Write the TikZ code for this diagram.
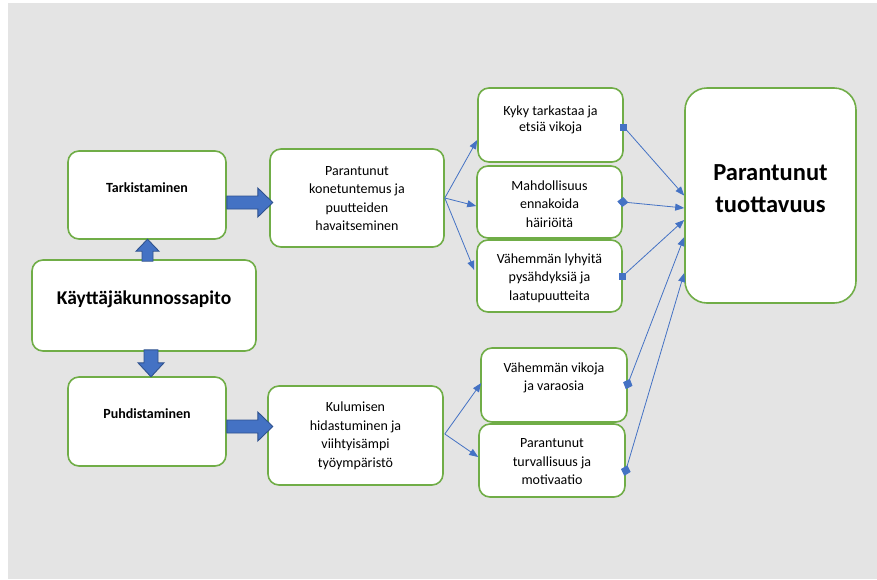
\documentclass[tikz,border=0pt]{standalone}
\usepackage{fontspec}
\setmainfont{Carlito}
\usetikzlibrary{arrows.meta,calc}
\definecolor{bggray}{HTML}{E4E4E4}
\definecolor{boxgreen}{HTML}{70AD47}
\definecolor{arrowblue}{HTML}{4472C4}
\definecolor{arrowedge}{HTML}{2F528F}

% block arrow: start coordinate, angle, length, head length, half shaft, half head
\newcommand\bigarr[6]{%
  \draw[barrow,shift={(#1)},rotate=#2]
    (0,-#5) -- ({#3-#4},-#5) -- ({#3-#4},-#6) -- (#3,0)
    -- ({#3-#4},#6) -- ({#3-#4},#5) -- (0,#5) -- cycle;}

\begin{document}
\begin{tikzpicture}[x=1pt,y=-1pt,
  box/.style={draw=boxgreen, line width=1.6pt, fill=white, rounded corners=11pt, inner sep=0pt},
  bigbox/.style={box, rounded corners=22pt},
  txt/.style={align=center, inner sep=0pt, font=\fontsize{14}{18.5}\selectfont},
  btxt/.style={align=center, inner sep=0pt, font=\fontsize{14}{16}\selectfont\bfseries},
  barrow/.style={fill=arrowblue, draw=arrowedge, line width=0.9pt, line join=miter},
  conn/.style={draw=arrowblue, line width=0.8pt, -{Triangle[length=9pt,width=7pt]}},
  sqmark/.style={fill=arrowblue},
  diconn/.style={conn, {Turned Square[length=11pt,width=10pt,sep=-5.5pt]}-{Triangle[length=9pt,width=7pt]}}]
\useasboundingbox (0,0) rectangle (877,579);
\fill[bggray] (8,3) rectangle (877,579);

% boxes
\node[box, minimum width=158, minimum height=88] (tark) at (147,195) {};
\node[box, minimum width=224, minimum height=91] (kayt) at (144,305.5) {};
\node[box, minimum width=158, minimum height=89] (puhd) at (147,421.5) {};
\node[box, minimum width=174, minimum height=98] (konet) at (357,198) {};
\node[box, minimum width=175, minimum height=99] (kulu) at (355.5,435.5) {};
\node[box, minimum width=145, minimum height=74] (kyky) at (550.5,125) {};
\node[box, minimum width=145, minimum height=72] (mahd) at (549.5,202) {};
\node[box, minimum width=145, minimum height=72] (lyhy) at (549.5,276) {};
\node[box, minimum width=146, minimum height=74] (vikoja) at (554,385) {};
\node[box, minimum width=146, minimum height=73] (turv) at (552,460.5) {};
\node[bigbox, minimum width=171, minimum height=215] (tuot) at (770.5,195.5) {};

% texts
\node[btxt] (tark-t) at (147,188) {Tarkistaminen};
\node[btxt, font=\fontsize{19.5}{22}\selectfont\bfseries] (kayt-t) at (144,299) {Käyttäjäkunnossapito};
\node[btxt] (puhd-t) at (147,414) {Puhdistaminen};
\node[txt] (konet-t) at (357,198.5) {Parantunut\\konetuntemus ja\\puutteiden\\havaitseminen};
\node[txt] (kulu-t) at (355.5,436) {Kulumisen\\hidastuminen ja\\viihtyisämpi\\työympäristö};
\node[txt, font=\fontsize{14}{16}\selectfont] (kyky-t) at (550.5,120) {Kyky tarkastaa ja\\etsiä vikoja};
\node[txt] (mahd-t) at (549.5,204) {Mahdollisuus\\ennakoida\\häiriöitä};
\node[txt] (lyhy-t) at (549.5,278) {Vähemmän lyhyitä\\pysähdyksiä ja\\laatupuutteita};
\node[txt] (vikoja-t) at (554,378) {Vähemmän vikoja\\ja varaosia};
\node[txt] (turv-t) at (552,462) {Parantunut\\turvallisuus ja\\motivaatio};
\node[btxt, font=\fontsize{24.5}{32}\selectfont\bfseries] (tuot-t) at (770.5,189) {Parantunut\\tuottavuus};

% block arrows
\coordinate (a1) at ($(tark.east)+(0,7.5)$);
\coordinate (a2) at ($(puhd.east)+(0,5)$);
\coordinate (a3) at ($(kayt.north)+(3.5,2)$);
\coordinate (a4) at ($(kayt.south)+(7,-2)$);
\bigarr{a1}{0}{46}{15}{6.5}{14.5}
\bigarr{a2}{0}{46}{15}{6.5}{14.5}
\bigarr{a3}{90}{22}{12}{5.5}{11.5}
\bigarr{a4}{-90}{27}{14}{7}{13}

% connectors from the middle boxes
\draw[conn] (konet.east) -- ($(kyky.west)+(0,15)$);
\draw[conn] (konet.east) -- ($(mahd.west)+(0,4)$);
\draw[conn] (konet.east) -- ($(lyhy.west)+(-2,-6)$);
\draw[conn] ($(kulu.east)+(1,-1.5)$) -- ($(vikoja.west)+(1,-2)$);
\draw[conn] ($(kulu.east)+(1,-1.5)$) -- ($(turv.west)+(0,-3.5)$);

% connectors into the result box, markers centred on the box edges
\coordinate (s1) at ($(kyky.east)+(0,2)$);
\coordinate (s3) at ($(lyhy.east)+(0,0)$);
\draw[conn] (s1) -- ($(tuot.west)+(0,0)$);
\draw[diconn] ($(mahd.east)+(0,0)$) -- ($(tuot.west)+(0,12.5)$);
\draw[conn] (s3) -- ($(tuot.west)+(0,24.5)$);
\draw[diconn] ($(vikoja.east)+(0,-1)$) -- ($(tuot.west)+(0,41.5)$);
\draw[diconn] ($(turv.east)+(0,10)$) -- ($(tuot.west)+(0,77.5)$);
\fill[sqmark] ($(s1)+(-3.5,-3.5)$) rectangle ($(s1)+(3.5,3.5)$);
\fill[sqmark] ($(s3)+(-3.5,-3.5)$) rectangle ($(s3)+(3.5,3.5)$);
\end{tikzpicture}
\end{document}
